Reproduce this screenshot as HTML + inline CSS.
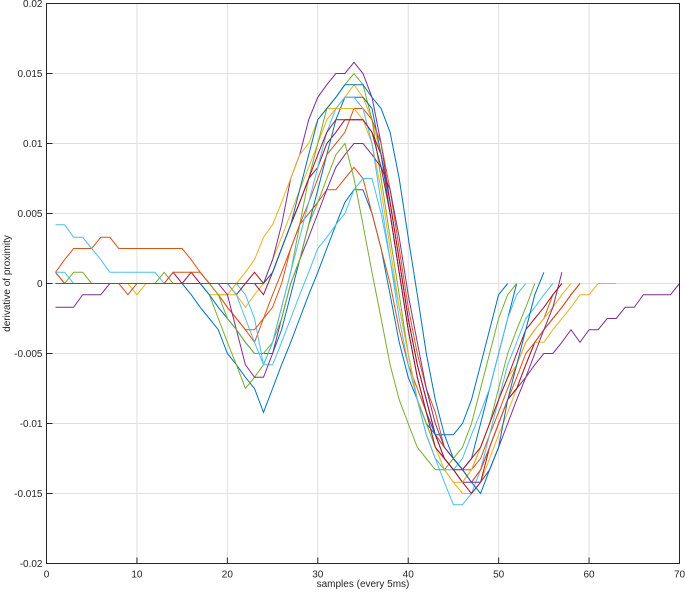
<!DOCTYPE html>
<html><head><meta charset="utf-8"><style>
body{margin:0;background:#fff;}
svg{display:block;font-family:"Liberation Sans",sans-serif;}
</style></head><body>
<svg id="chart" width="685" height="592"></svg>
<script>
const xTicks=[0,10,20,30,40,50,60,70];
const yTicks=[-0.02,-0.015,-0.01,-0.005,0,0.005,0.01,0.015,0.02];
const yTickLabels=["-0.02","-0.015","-0.01","-0.005","0","0.005","0.01","0.015","0.02"];
const colors=["#0072BD","#D95319","#EDB120","#7E2F8E","#77AC30","#4DBEEE","#A2142F"];
// values in units of 1e-3, starting at sample 1
const s1=[0,0,0,0,0,0,0,0,0,0,0,0,0,0,0,-0.8,-1.7,-2.5,-3.3,-5,-5.8,-6.7,-7.5,-9.2,-7.5,-5.8,-4.2,-2.5,-0.8,0.8,2.5,4.2,5.8,6.7,6.7,5,2.5,-0.8,-4.2,-6.7,-8.3,-10,-10.8,-11.7,-12.5,-13.3,-12.5,-10,-7.5,-5,-2.5,0];
const s2=[0.8,1.7,2.5,2.5,2.5,3.3,3.3,2.5,2.5,2.5,2.5,2.5,2.5,2.5,2.5,1.7,0.8,0,-0.8,-1.7,-2.5,-3.3,-4.2,-2.5,-0.8,0.8,2.5,4.2,5,5.8,6.7,6.7,7.5,8.3,7.5,5,2.5,0,-3.3,-5.8,-7.5,-9.2,-10.8,-11.7,-12.5,-13.3,-13.3,-12.5,-10.8,-9.2,-7.5,-5.8,-4.2,-3.3,-2.5,-0.8,0];
const s3=[0,0,0,0,0,0,0,0,0,-0.8,0,0,0,0,0,0,0,-0.8,-0.8,-0.8,-0.8,-1.7,-0.8,0,1.7,3.3,5,6.7,8.3,10,11.7,12.5,13.3,14.2,13.3,11.7,9.2,5,0.8,-3.3,-6.7,-9.2,-11.7,-13.3,-14.2,-15,-15,-14.2,-12.5,-10.8,-9.2,-7.5,-5.8,-4.2,-4.2,-3.3,-2.5,-1.7,-0.8,-0.8,0,0,0];
const s4=[-1.7,-1.7,-1.7,-0.8,-0.8,-0.8,0,0,0,0,0,0,0,0,0,0,0,0,0,0,0,0,0,0,1.7,4.2,7.5,9.2,11.7,13.3,14.2,15,15,15.8,15,13.3,10,5.8,1.7,-2.5,-5.8,-8.3,-10.8,-12.5,-13.3,-14.2,-14.2,-13.3,-11.7,-10,-8.3,-7.5,-6.7,-5.8,-5,-5,-4.2,-3.3,-4.2,-3.3,-3.3,-2.5,-2.5,-1.7,-1.7,-0.8,-0.8,-0.8,-0.8,0];
const s5=[0,0,0.8,0.8,0,0,0,0,0,0,0,0,0.8,0,0,0,0,-0.8,-2.5,-4.2,-5.8,-7.5,-6.7,-5.8,-4.2,-1.7,0.8,4.2,7.5,10,12.5,13.3,14.2,15,14.2,11.7,7.5,3.3,-0.8,-5,-8.3,-10,-11.7,-12.5,-13.3,-14.2,-13.3,-11.7,-10,-7.5,-5,-3.3,-1.7,0];
const s6=[4.2,4.2,3.3,3.3,2.5,1.7,0.8,0.8,0.8,0.8,0.8,0.8,0,0,0,0,0,0,0,0,0,-0.8,-2.5,-5.8,-5.8,-4.2,-2.5,-0.8,0.8,2.5,3.3,4.2,5,6.7,7.5,7.5,5,1.7,-1.7,-5,-8.3,-10.8,-12.5,-14.2,-15.8,-15.8,-15,-13.3,-10.8,-8.3,-5.8,-4.2,-2.5,-1.7,-0.8,0];
const s7=[0.8,0,0,0,0,0,0,0,0,0,0,0,0,0.8,0,0.8,0,0,0,0,-0.8,0,0.8,0,0.8,2.5,4.2,5.8,7.5,8.3,10,10.8,11.7,11.7,11.7,10.8,9.2,5.8,1.7,-2.5,-5.8,-8.3,-10.8,-12.5,-13.3,-14.2,-15,-14.2,-11.7,-10,-8.3,-7.5,-5.8,-4.2,-3.3,-2.5,-1.7,-0.8,0];
const s8=[0,0,0,0,0,0,0,0,0,0,0,0,0,0,0,0,0,-0.8,-1.7,-2.5,-3.3,-4.2,-5,-5,-5,-3.3,-0.8,1.7,4.2,6.7,9.2,11.7,13.3,13.3,13.3,12.5,9.2,5,0.8,-3.3,-6.7,-9.2,-10.8,-10.8,-10.8,-10,-8.3,-5.8,-3.3,-0.8,0];
const s9=[0.8,0,0,0,0,0,0,0,-0.8,0,0,0,0,0.8,0.8,0.8,0.8,0,-0.8,-1.7,-2.5,-3.3,-3.3,-2.5,-1.7,0,2.5,4.2,5.8,7.5,9.2,10,10.8,12.5,12.5,11.7,10,6.7,2.5,-1.7,-5,-7.5,-9.2,-11.7,-12.5,-13.3,-14.2,-13.3,-11.7,-10,-8.3,-6.7,-5,-4.2,-3.3,-2.5,-1.7,-0.8,0];
const s10=[0,0,0,0,0,0,0,0,0,0,0,0,0,0,0,0,0,0,-0.8,-0.8,0,0.8,1.7,3.3,4.2,5.8,7.5,9.2,10,11.7,12.5,12.5,12.5,12.5,11.7,10,6.7,2.5,-1.7,-5,-8.3,-10.8,-12.5,-13.3,-14.2,-14.2,-13.3,-11.7,-10,-8.3,-6.7,-5.8,-4.2,-3.3,-2.5,-1.7,-0.8,0];
const s11=[0,0,0,0,0,0,0,0,0,0,0,0,0,0,0,0,0,0,0,-0.8,-3.3,-5.8,-6.7,-6.7,-5,-2.5,0,1.7,3.3,5,6.7,8.3,9.2,10,10,9.2,8.3,6.7,3.3,-0.8,-4.2,-7.5,-10,-11.7,-12.5,-13.3,-14.2,-14.2,-13.3,-11.7,-10,-8.3,-6.7,-5,-3.3,-1.7,0.8];
const s12=[0,0,0,0,0,0,0,0,0,0,0,0,0,0,0,0,0,0,-0.8,-2.5,-3.3,-4.2,-5,-5,-4.2,-2.5,0,1.7,4.2,5.8,7.5,9.2,10,7.5,4.2,0.8,-2.5,-5.8,-8.3,-10,-11.7,-12.5,-13.3,-13.3,-12.5,-11.7,-10,-7.5,-5,-2.5,-0.8,0];
const s13=[0.8,0.8,0,0,0,0,0,0,0,0,0,0,0,0,0,0,0,0,0,0,-0.8,-2.5,-4.2,-5.8,-4.2,-1.7,0.8,3.3,5.8,8.3,10.8,12.5,13.3,13.3,12.5,10,5.8,1.7,-2.5,-5.8,-8.3,-10.8,-12.5,-13.3,-13.3,-12.5,-10.8,-9.2,-7.5,-5,-2.5,-0.8,0];
const s14=[0,0,0,0,0,0,0,0,0,0,0,0,0,0,0,0,0,0,0,0,0,0,0,-0.8,0.8,2.5,4.2,5.8,7.5,9.2,10.8,11.7,11.7,11.7,11.7,10.8,8.3,5,0.8,-3.3,-6.7,-9.2,-11.7,-12.5,-13.3,-13.3,-12.5,-11.7,-10,-8.3,-6.7,-5,-3.3,-2.5,-1.7,-0.8,0];
const s15=[0,0,0,0,0,0,0,0,0,0,0,0,0,0,0,0,0,0,0,0,0,0,0,0,0.8,2.5,4.2,6.7,9.2,11.7,12.5,13.3,14.2,14.2,14.2,13.3,12.5,10.8,7.5,3.3,-0.8,-5,-8.3,-10.8,-12.5,-13.3,-14.2,-15,-13.3,-11.7,-8.3,-5.8,-3.3,-0.8,0.8];
const series=[s1,s2,s3,s4,s5,s6,s7,s8,s9,s10,s11,s12,s13,s14,s15];

const L=46.5,R=679.5,T=3.5,B=563.5;
const xS=v=>L+(v-0)/(70-0)*(R-L);
const yS=v=>B-(v-(-0.02))/(0.04)*(B-T);
const svg=document.getElementById('chart');
const NS='http://www.w3.org/2000/svg';
function mk(tag,attrs){const e=document.createElementNS(NS,tag);for(const k in attrs)e.setAttribute(k,attrs[k]);svg.appendChild(e);return e;}

const bg=mk('rect',{x:L,y:T,width:R-L,height:B-T,fill:'#fff'});



xTicks.forEach(t=>{
  const g=mk('line',{x1:xS(t),x2:xS(t),y1:T,y2:B,stroke:'#dfdfdf','stroke-width':1});
  
  
  const tk=mk('line',{x1:xS(t),x2:xS(t),y1:B,y2:B-6,stroke:'#262626','stroke-width':1});
  
  
  const tx=mk('text',{x:xS(t),y:B+14,'text-anchor':'middle','font-size':10,fill:'#262626'});
  tx.textContent=t;
  
  
});
yTicks.forEach((t,i)=>{
  const g=mk('line',{x1:L,x2:R,y1:yS(t),y2:yS(t),stroke:'#dfdfdf','stroke-width':1});
  
  
  const tk=mk('line',{x1:L,x2:L+6,y1:yS(t),y2:yS(t),stroke:'#262626','stroke-width':1});
  
  
  const tx=mk('text',{x:L-4,y:yS(t)+3.5,'text-anchor':'end','font-size':10,fill:'#262626'});
  tx.textContent=yTickLabels[i];
  
  
});

series.forEach((s,i)=>{
  const pts=s.map((v,j)=>xS(j+1).toFixed(1)+','+yS(v*0.001).toFixed(1)).join(' ');
  const p=mk('polyline',{points:pts,fill:'none',stroke:colors[i%colors.length],'stroke-width':1});
  
  
});

const box=mk('rect',{x:L,y:T,width:R-L,height:B-T,fill:'none',stroke:'#262626','stroke-width':1});



const xl=mk('text',{x:(L+R)/2,y:587,'text-anchor':'middle','font-size':10,fill:'#262626'});
xl.textContent='samples (every 5ms)';


const yl=mk('text',{x:0,y:0,'text-anchor':'middle','font-size':10,fill:'#262626',transform:'translate(10,'+((T+B)/2)+') rotate(-90)'});
yl.textContent='derivative of proximity';


</script>
</body></html>
